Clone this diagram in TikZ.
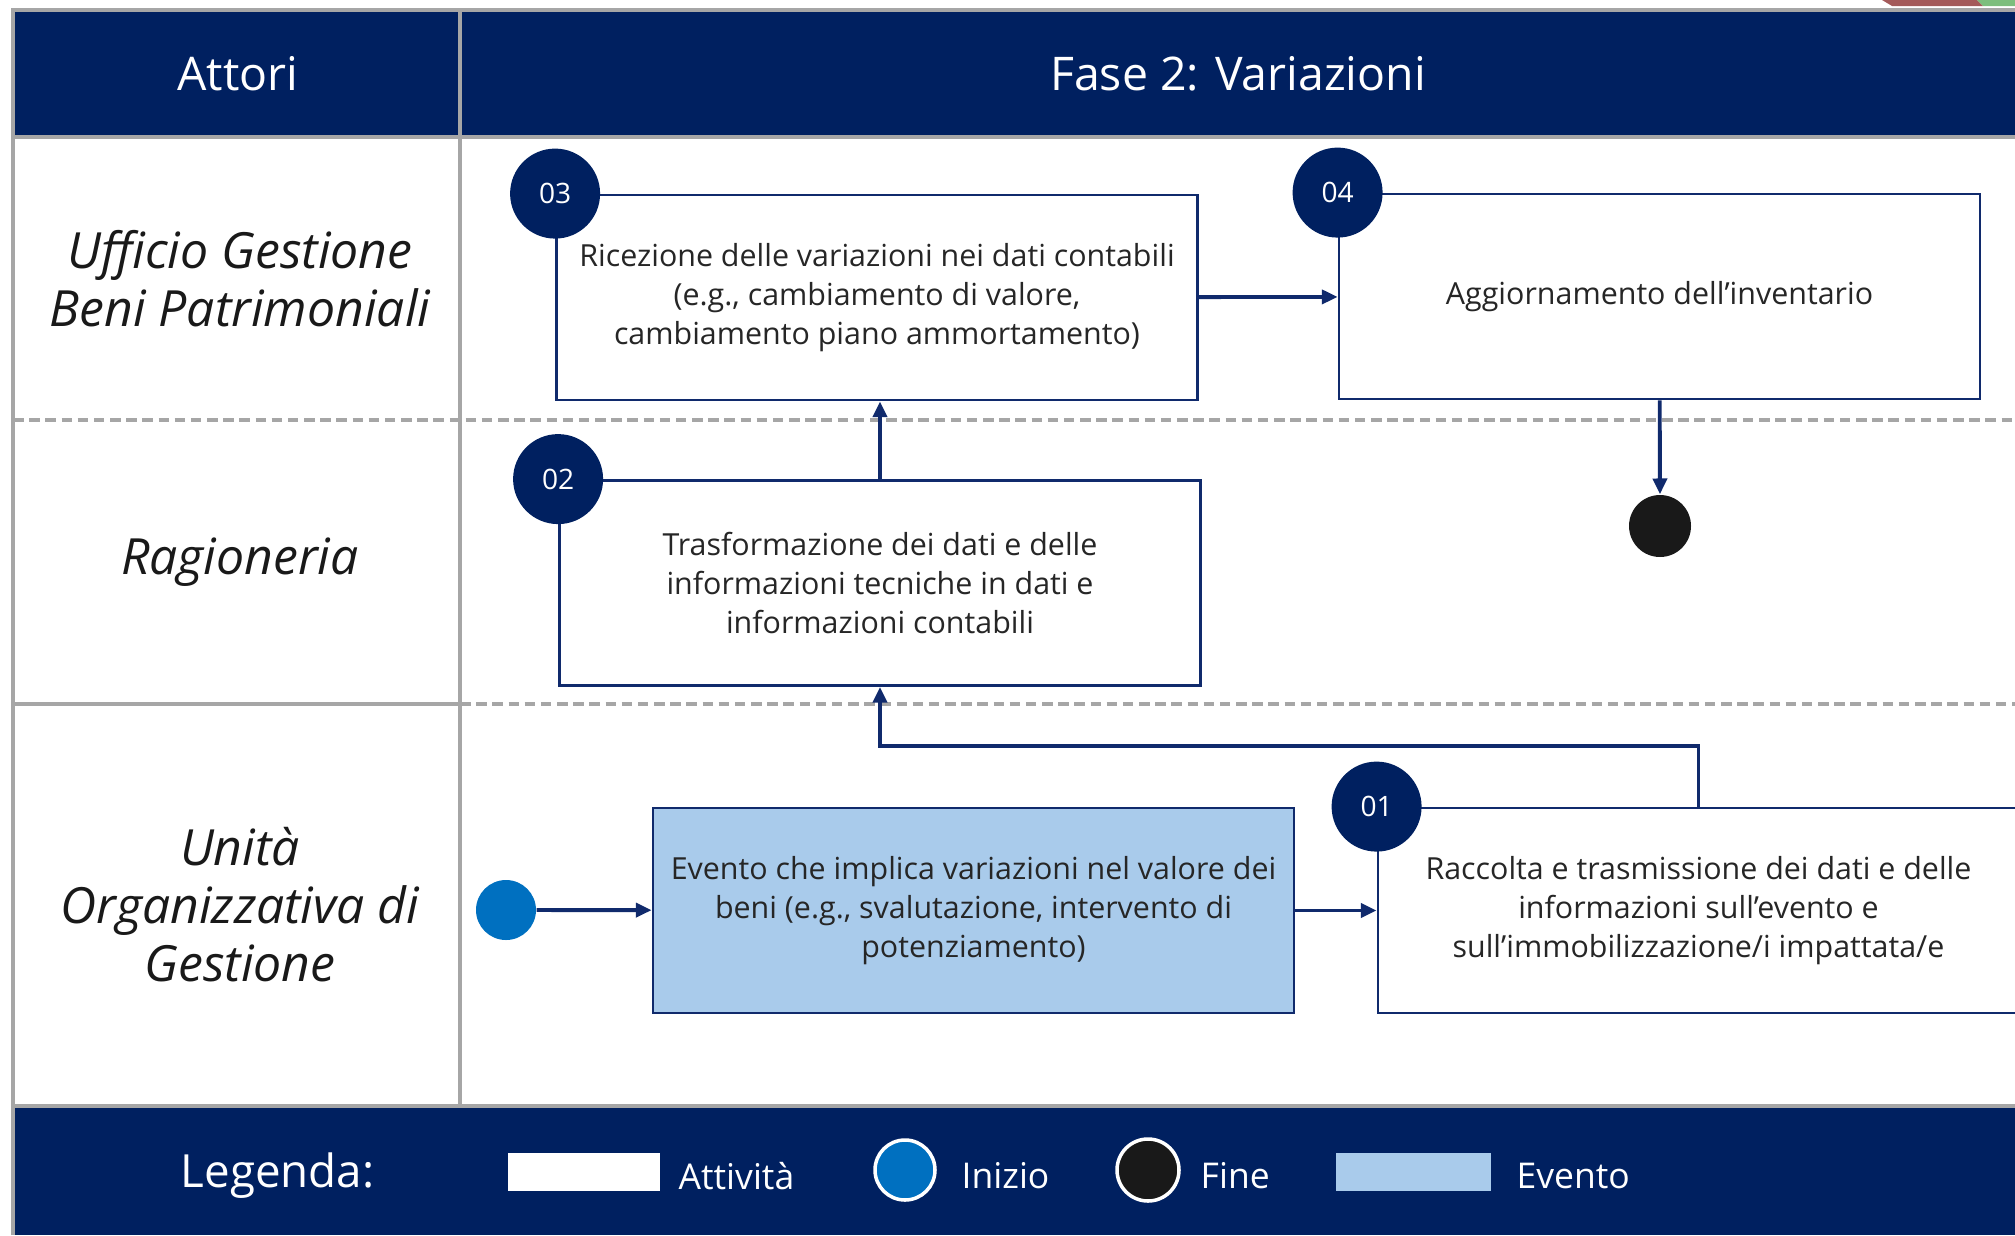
\documentclass[tikz,border=0pt]{standalone}
\usepackage{fontspec}
\setmainfont{Open Sans}
\usetikzlibrary{arrows.meta}
\definecolor{navy}{RGB}{0,32,96}
\definecolor{boxline}{RGB}{16,42,108}
\definecolor{evblue}{RGB}{169,203,235}
\definecolor{startblue}{RGB}{0,112,192}
\definecolor{gridgrey}{RGB}{166,166,166}
\definecolor{txtgrey}{RGB}{38,38,38}
\definecolor{cornerred}{RGB}{164,90,90}
\definecolor{cornergreen}{RGB}{125,190,125}

\begin{document}
\begin{tikzpicture}[>={Triangle[length=4.5pt,width=4pt]}]
        \tikzstyle{activity}=[rectangle,draw=boxline,line width=0.8pt,fill=white,minimum width=6.41cm,minimum height=2.05cm,align=center,text=txtgrey,font=\fontsize{8.65}{11}\selectfont]
        \tikzstyle{event}=[activity,fill=evblue]
        \tikzstyle{stepnum}=[circle,fill=navy,minimum size=0.9cm,inner sep=0pt,text=white,font=\fontsize{8}{10}\selectfont]
        \tikzstyle{startpt}=[circle,fill=startblue,minimum size=0.6cm,inner sep=0pt]
        \tikzstyle{endpt}=[circle,fill=black!90,minimum size=0.62cm,inner sep=0pt]
        \tikzstyle{actor}=[align=center,text=black!90,font=\fontsize{14.2}{16.5}\selectfont\itshape]
        \tikzstyle{headtxt}=[text=white,font=\fontsize{13.2}{15}\selectfont]
        \tikzstyle{legtxt}=[text=white,anchor=west,inner sep=0pt,font=\fontsize{10.1}{12}\selectfont]
        \tikzstyle{flow}=[->,draw=boxline,line width=1.1pt]
        \tikzstyle{grid}=[draw=gridgrey,line width=1pt]
        \useasboundingbox (0,0) rectangle (20.15,-12.35);

        % bands and frame
        \fill[cornerred] (18.82,0) -- (19.77,0) -- (19.83,-0.06) -- (18.92,-0.06) -- cycle;
        \fill[cornergreen] (19.77,0) -- (20.15,0) -- (20.15,-0.06) -- (19.83,-0.06) -- cycle;
        \fill[navy] (0.13,-0.10) rectangle (20.15,-1.37);
        \fill[navy] (0.13,-11.06) rectangle (20.15,-12.35);
        \draw[grid] (0.13,-12.35) -- (0.13,-0.10) -- (20.15,-0.10);
        \draw[grid] (0.13,-1.37) -- (20.15,-1.37);
        \draw[grid] (0.13,-11.06) -- (20.15,-11.06);
        \draw[grid] (4.60,-0.10) -- (4.60,-11.06);
        \draw[grid,dash pattern=on 3pt off 1.6pt] (0.13,-4.20) -- (20.15,-4.20);
        \draw[grid] (0.13,-7.04) -- (4.60,-7.04);
        \draw[grid,dash pattern=on 3pt off 1.6pt] (4.60,-7.04) -- (20.15,-7.04);

        % header
        \node[headtxt] (hact) at (2.38,-0.74) {Attori};
        \node[headtxt] (hfase) at (12.38,-0.74) {Fase 2: Variazioni};

        % actors
        \node[actor] (a1) at (2.40,-2.79) {Ufficio Gestione\\Beni Patrimoniali};
        \node[actor] (a2) at (2.40,-5.62) {Ragioneria};
        \node[actor] (a3) at (2.40,-9.05) {Unità\\Organizzativa di\\Gestione};

        % activities
        \node[activity] (b03) at (8.77,-2.975) {Ricezione delle variazioni nei dati contabili\\(e.g., cambiamento di valore,\\cambiamento piano ammortamento)};
        \node[activity] (b04) at (16.595,-2.965) {Aggiornamento dell’inventario};
        \node[activity] (b02) at (8.80,-5.83) {Trasformazione dei dati e delle\\informazioni tecniche in dati e\\informazioni contabili};
        \node[event] (ev) at (9.735,-9.105) {Evento che implica variazioni nel valore dei\\beni (e.g., svalutazione, intervento di\\potenziamento)};
        \node[activity] (b01) at (16.985,-9.105) {Raccolta e trasmissione dei dati e delle\\informazioni sull’evento e\\sull’immobilizzazione/i impattata/e};
        \foreach \num in {03,04,02,01}
                \node[stepnum] (N-\num) at (b\num.north west) {\num};

        \node[startpt] (start) at (5.06,-9.10) {};
        \node[endpt] (fine) at (16.60,-5.26) {};

        \draw[flow] (start) -- (ev);
        \draw[flow] (ev) -- (b01);
        \draw[flow] (b01.north) -- ++(0,0.61) -| (b02.south);
        \draw[flow] (b02.north) -- (b02.north |- b03.south);
        \draw[flow] (b03) -- (b04);
        \draw[flow] (b04) -- (fine);

        % legend
        \node[legtxt,font=\fontsize{13}{15}\selectfont] (leg) at (1.80,-11.76) {Legenda:};
        \node[fill=white,minimum width=1.52cm,minimum height=0.38cm,inner sep=0pt] (lact) at (5.84,-11.72) {};
        \node[legtxt] (tact) at (6.78,-11.76) {Attività};
        \node[startpt,draw=white,line width=1pt] (lini) at (9.05,-11.70) {};
        \node[legtxt] (tini) at (9.61,-11.76) {Inizio};
        \node[endpt,draw=white,line width=1pt] (lfin) at (11.48,-11.70) {};
        \node[legtxt] (tfin) at (12.00,-11.76) {Fine};
        \node[fill=evblue,minimum width=1.55cm,minimum height=0.38cm,inner sep=0pt] (lev) at (14.13,-11.72) {};
        \node[legtxt] (tev) at (15.16,-11.76) {Evento};
\end{tikzpicture}
\end{document}
